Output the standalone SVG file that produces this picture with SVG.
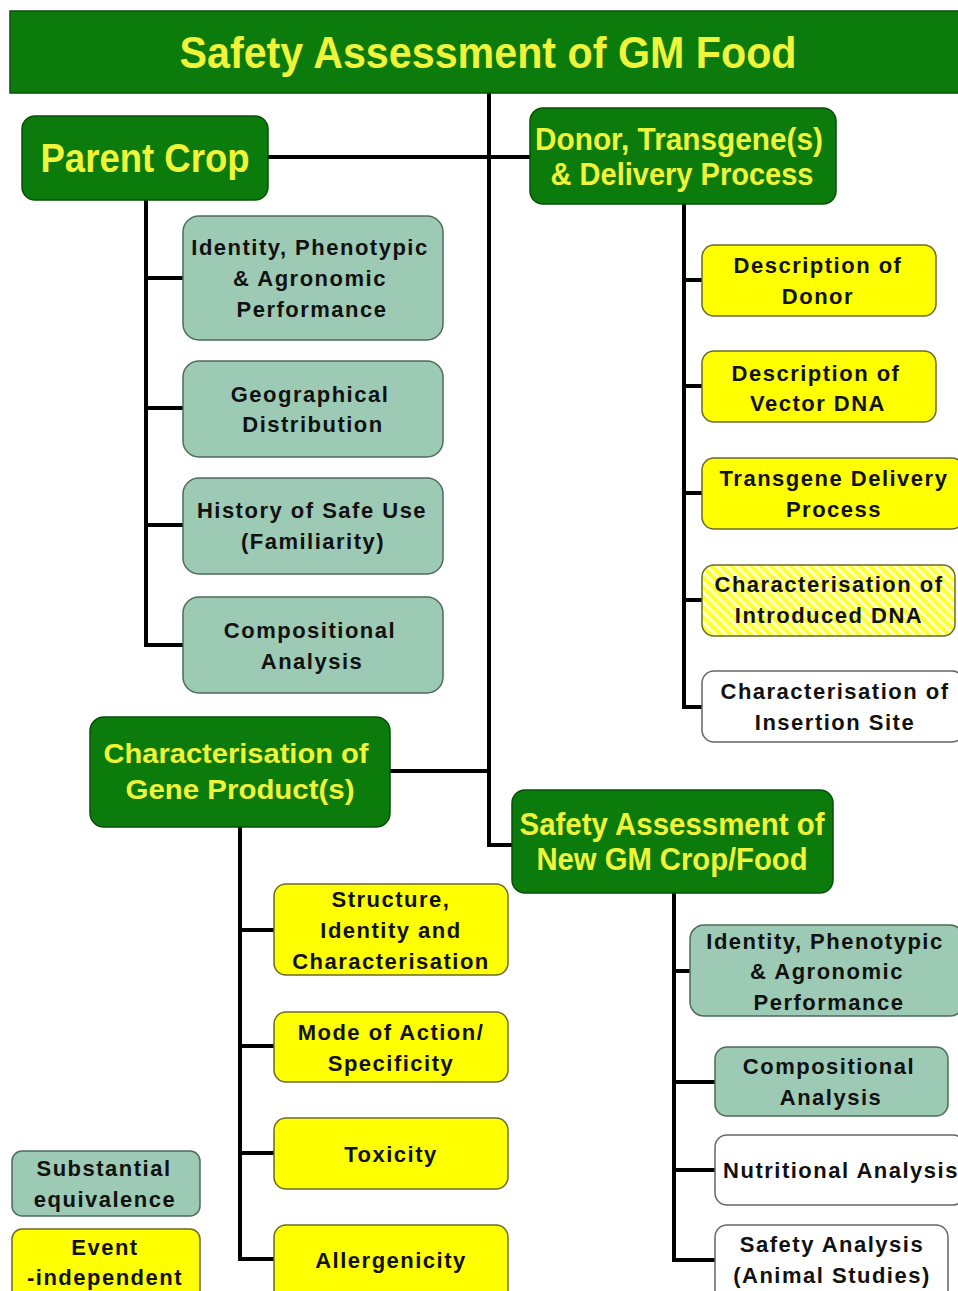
<svg xmlns="http://www.w3.org/2000/svg" width="958" height="1291" viewBox="0 0 958 1291">
<defs>
<pattern id="hatch" width="7" height="7" patternUnits="userSpaceOnUse" patternTransform="rotate(-45)">
<rect width="7" height="7" fill="#ffff33"/>
<rect width="2.8" height="7" fill="#ffffd8"/>
</pattern>
</defs>
<style>
.gr{fill:#0b7b0b;stroke:#075007;stroke-width:1.5}
.te{fill:#9ccab4;stroke:#4e6b5c;stroke-width:1.5}
.ye{fill:#ffff00;stroke:#6a6a2a;stroke-width:1.5}
.ha{fill:url(#hatch);stroke:#6a6a2a;stroke-width:1.5}
.wh{fill:#ffffff;stroke:#666;stroke-width:1.5}
.big{font-family:"Liberation Sans",Arial,sans-serif;font-weight:bold;fill:#f0f53a;text-anchor:middle}
.sm{font-family:"Liberation Sans",Arial,sans-serif;font-weight:bold;font-size:22px;letter-spacing:1.5px;fill:#111;text-anchor:middle}
.ln{fill:none;stroke:#000;stroke-width:4}
</style>
<rect width="958" height="1291" fill="#ffffff"/>
<g id="connectors">
<path class="ln" d="M489,92 V845 H512"/>
<path class="ln" d="M268,157 H530"/>
<path class="ln" d="M390,771 H489"/>
<path class="ln" d="M146,200 V645 H183 M146,278 H183 M146,408 H183 M146,525 H183"/>
<path class="ln" d="M684,204 V707 H702 M684,280 H702 M684,386 H702 M684,493 H702 M684,600 H702"/>
<path class="ln" d="M240,827 V1259 H274 M240,930 H274 M240,1046 H274 M240,1153 H274"/>
<path class="ln" d="M674,893 V1260 H715 M674,971 H690 M674,1082 H715 M674,1170 H715"/>
</g>
<g id="title">
<rect class="gr" x="10" y="11" width="960" height="82"/>
<text class="big" x="488" y="68" font-size="44" textLength="617" lengthAdjust="spacingAndGlyphs">Safety Assessment of GM Food</text>
</g>
<g id="parent-crop">
<rect class="gr" x="22" y="116" width="246" height="84" rx="13"/>
<text class="big" x="145" y="172" font-size="40" textLength="209" lengthAdjust="spacingAndGlyphs">Parent Crop</text>
</g>
<g id="donor">
<rect class="gr" x="530" y="108" width="306" height="96" rx="13"/>
<text class="big" x="679" y="150" font-size="31" textLength="288" lengthAdjust="spacingAndGlyphs">Donor, Transgene(s)</text>
<text class="big" x="682" y="185" font-size="31" textLength="263" lengthAdjust="spacingAndGlyphs">&amp; Delivery Process</text>
</g>
<g id="pc-identity">
<rect class="te" x="183" y="216" width="260" height="124" rx="16"/>
<text class="sm" x="310" y="255">Identity, Phenotypic</text>
<text class="sm" x="310" y="286">&amp; Agronomic</text>
<text class="sm" x="312" y="317">Performance</text>
</g>
<g id="pc-geo">
<rect class="te" x="183" y="361" width="260" height="96" rx="16"/>
<text class="sm" x="310" y="402">Geographical</text>
<text class="sm" x="313" y="432">Distribution</text>
</g>
<g id="pc-history">
<rect class="te" x="183" y="478" width="260" height="96" rx="16"/>
<text class="sm" x="312" y="518">History of Safe Use</text>
<text class="sm" x="313" y="549">(Familiarity)</text>
</g>
<g id="pc-comp">
<rect class="te" x="183" y="597" width="260" height="96" rx="16"/>
<text class="sm" x="310" y="638">Compositional</text>
<text class="sm" x="312" y="669">Analysis</text>
</g>
<g id="d-donor">
<rect class="ye" x="702" y="245" width="234" height="71" rx="12"/>
<text class="sm" x="818" y="273">Description of</text>
<text class="sm" x="818" y="304">Donor</text>
</g>
<g id="d-vector">
<rect class="ye" x="702" y="351" width="234" height="71" rx="12"/>
<text class="sm" x="816" y="381">Description of</text>
<text class="sm" x="818" y="411">Vector DNA</text>
</g>
<g id="d-delivery">
<rect class="ye" x="702" y="458" width="262" height="71" rx="12"/>
<text class="sm" x="834" y="486">Transgene Delivery</text>
<text class="sm" x="834" y="517">Process</text>
</g>
<g id="d-introduced">
<rect class="ha" x="702" y="565" width="253" height="71" rx="12"/>
<text class="sm" x="829" y="592">Characterisation of</text>
<text class="sm" x="829" y="623">Introduced DNA</text>
</g>
<g id="d-insertion">
<rect class="wh" x="702" y="671" width="262" height="71" rx="12"/>
<text class="sm" x="835" y="699">Characterisation of</text>
<text class="sm" x="835" y="730">Insertion Site</text>
</g>
<g id="gene-product">
<rect class="gr" x="90" y="717" width="300" height="110" rx="14"/>
<text class="big" x="236" y="763" font-size="28" textLength="265" lengthAdjust="spacingAndGlyphs">Characterisation of</text>
<text class="big" x="240" y="799" font-size="28" textLength="229" lengthAdjust="spacingAndGlyphs">Gene Product(s)</text>
</g>
<g id="new-gm">
<rect class="gr" x="512" y="790" width="321" height="103" rx="13"/>
<text class="big" x="672" y="835" font-size="31" textLength="305" lengthAdjust="spacingAndGlyphs">Safety Assessment of</text>
<text class="big" x="672" y="870" font-size="31" textLength="271" lengthAdjust="spacingAndGlyphs">New GM Crop/Food</text>
</g>
<g id="g-structure">
<rect class="ye" x="274" y="884" width="234" height="91" rx="12"/>
<text class="sm" x="391" y="907">Structure,</text>
<text class="sm" x="391" y="938">Identity and</text>
<text class="sm" x="391" y="969">Characterisation</text>
</g>
<g id="g-mode">
<rect class="ye" x="274" y="1012" width="234" height="70" rx="12"/>
<text class="sm" x="391" y="1040">Mode of Action/</text>
<text class="sm" x="391" y="1071">Specificity</text>
</g>
<g id="g-toxicity">
<rect class="ye" x="274" y="1118" width="234" height="71" rx="12"/>
<text class="sm" x="391" y="1162">Toxicity</text>
</g>
<g id="g-allergenicity">
<rect class="ye" x="274" y="1225" width="234" height="80" rx="12"/>
<text class="sm" x="391" y="1268">Allergenicity</text>
</g>
<g id="n-identity">
<rect class="te" x="690" y="925" width="274" height="91" rx="14"/>
<text class="sm" x="825" y="949">Identity, Phenotypic</text>
<text class="sm" x="827" y="979">&amp; Agronomic</text>
<text class="sm" x="829" y="1010">Performance</text>
</g>
<g id="n-comp">
<rect class="te" x="715" y="1047" width="233" height="69" rx="12"/>
<text class="sm" x="829" y="1074">Compositional</text>
<text class="sm" x="831" y="1105">Analysis</text>
</g>
<g id="n-nutrition">
<rect class="wh" x="715" y="1135" width="250" height="70" rx="12"/>
<text class="sm" x="841" y="1178">Nutritional Analysis</text>
</g>
<g id="n-safety">
<rect class="wh" x="715" y="1225" width="233" height="80" rx="12"/>
<text class="sm" x="832" y="1252">Safety Analysis</text>
<text class="sm" x="832" y="1283">(Animal Studies)</text>
</g>
<g id="legend-se">
<rect class="te" x="12" y="1151" width="188" height="65" rx="10"/>
<text class="sm" x="104" y="1176">Substantial</text>
<text class="sm" x="105" y="1207">equivalence</text>
</g>
<g id="legend-ei">
<rect class="ye" x="12" y="1229" width="188" height="75" rx="10"/>
<text class="sm" x="105" y="1255">Event</text>
<text class="sm" x="105" y="1285">-independent</text>
</g>
</svg>
